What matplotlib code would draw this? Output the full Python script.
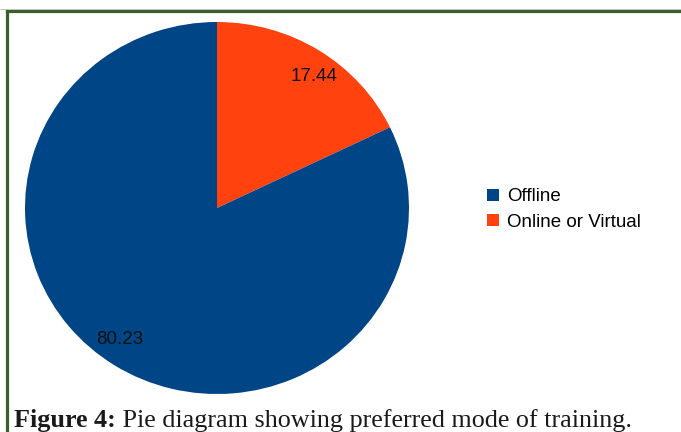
import matplotlib
matplotlib.use('Agg')
import numpy as np
import matplotlib.pyplot as plt
from matplotlib.lines import Line2D
from matplotlib.patches import Patch

labels = ['Offline', 'Online or Virtual']
values = [80.23, 17.44]
colors = ['#004586', '#ff420e']
caption_bold = 'Figure 4:'
caption_text = ' Pie diagram showing preferred mode of training.'

W, H = 681, 432
fig = plt.figure(figsize=(W / 100, H / 100), dpi=100)
fig.patch.set_facecolor('white')

# pie, centred around (217, 208) px, slightly wider than tall
cx, cy, rx, ry = 217, 208, 192, 186
ax = fig.add_axes([(cx - rx) / W, (H - cy - ry) / H, 2 * rx / W, 2 * ry / H])
total = sum(values)
# draw orange first so it starts at 12 o'clock going clockwise
wedges, texts, autotexts = ax.pie(
    values[::-1], colors=colors[::-1], startangle=90, counterclock=False,
    autopct=lambda p: f'{p * total / 100:.2f}', pctdistance=0.87,
    wedgeprops=dict(linewidth=0),
    textprops=dict(fontsize=13.5, family='Liberation Sans', color='#111111'))
# nudge value labels a few degrees clockwise, like the original
for w, t in zip(wedges, autotexts):
    mid = np.deg2rad((w.theta1 + w.theta2) / 2 - 3.5)
    t.set_position((0.87 * np.cos(mid), 0.87 * np.sin(mid)))
ax.set_xlim(-1, 1)
ax.set_ylim(-1, 1)
ax.set_aspect('auto')
ax.axis('off')

handles = [Patch(facecolor=c, edgecolor='none') for c in colors]
fig.legend(handles, labels, loc='upper left', bbox_to_anchor=(478 / W, 1 - 179 / H),
           frameon=False, handlelength=0.62, handleheight=0.62, handletextpad=0.45,
           labelspacing=0.45, borderpad=0, prop=dict(family='Liberation Sans', size=13.5))

# green frame (top and left edges visible)
fig.add_artist(Line2D([7 / W, 1], [1 - 11 / H, 1 - 11 / H], color='#3b5e2b', lw=2.3,
                      transform=fig.transFigure))
fig.add_artist(Line2D([7 / W, 7 / W], [0, 1 - 11 / H], color='#3b5e2b', lw=2.3,
                      transform=fig.transFigure))
fig.add_artist(Line2D([0, 1], [1 - 8.5 / H, 1 - 8.5 / H], color='#bbbbbb', lw=0.6,
                      transform=fig.transFigure))

# caption: bold lead-in followed by regular text
t1 = fig.text(14 / W, 1 - 427 / H, caption_bold, fontsize=18.8, fontweight='bold',
              family='Liberation Serif', color='#1a1a1a', va='baseline')
fig.canvas.draw()
bb = t1.get_window_extent(fig.canvas.get_renderer())
fig.text(bb.x1 / W, 1 - 427 / H, caption_text, fontsize=18.8,
         family='Liberation Serif', color='#1a1a1a', va='baseline')

fig.savefig('out.png', dpi=100)
